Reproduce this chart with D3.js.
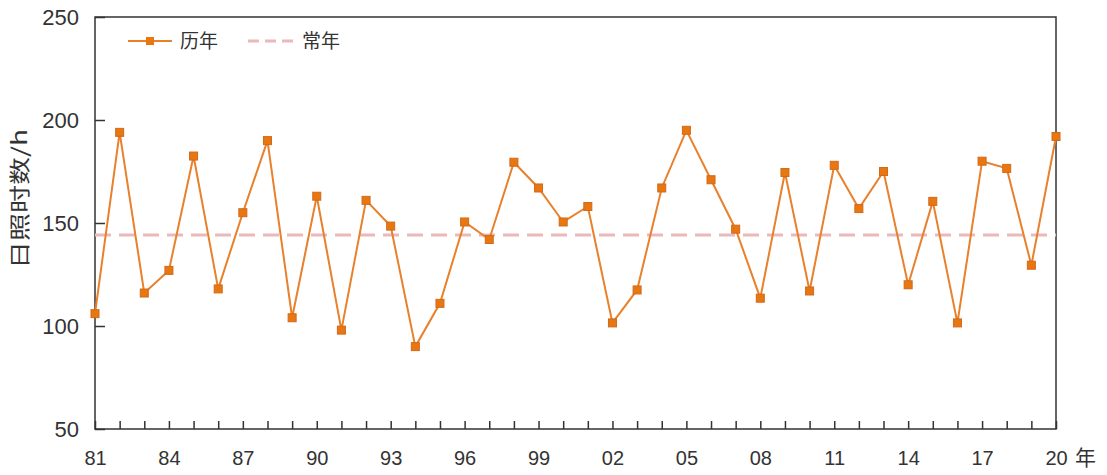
<!DOCTYPE html>
<html>
<head>
<meta charset="utf-8">
<script src="https://cdn.jsdelivr.net/npm/d3@7"></script>
<style>
  body { margin: 0; background: #fff; }
  svg text { font-family: "Liberation Sans", Arial, "Noto Sans CJK SC", sans-serif; fill: #333; }
  .cjk { font-family: "Noto Sans CJK SC", sans-serif; }
</style>
</head>
<body>
<div id="canvas"></div>
<script>
// datos
var anios = d3.range(1981, 2021);
var horas = [106, 194, 116, 127, 182.5, 118, 155, 190, 104, 163, 98, 161, 148.5, 90, 111, 150.5,
             142, 179.5, 167, 150.5, 158, 101.5, 117.5, 167, 195, 171, 147, 113.5, 174.5, 117,
             178, 157, 175, 120, 160.5, 101.5, 180, 176.5, 129.5, 192];
var normal = 144.2;
var yTicks = [50, 100, 150, 200, 250];
var xLabelAnios = [1981, 1984, 1987, 1990, 1993, 1996, 1999, 2002, 2005, 2008, 2011, 2014, 2017, 2020];

var width = 1107;
var height = 475;
var margin = {top: 17, right: 51, bottom: 46, left: 95};
var w = width - margin.left - margin.right;
var h = height - margin.top - margin.bottom;

var naranja = "#E8802C";
var rosa = "#E9B9BC";

var svg = d3.select("#canvas").append("svg")
    .attr("width", width)
    .attr("height", height);

var g = svg.append("g")
    .attr("transform", "translate(" + margin.left + "," + margin.top + ")");

var x = d3.scaleLinear().domain([1981, 2020]).range([0, w]);
var y = d3.scaleLinear().domain([50, 250]).range([h, 0]);

// marco
g.append("rect")
    .attr("width", w)
    .attr("height", h)
    .attr("fill", "none")
    .attr("stroke", "#333")
    .attr("stroke-width", 1.5);

// eje x, ticks hacia dentro
var ejeX = g.append("g")
    .attr("transform", "translate(0," + h + ")")
    .call(d3.axisBottom(x)
        .tickValues(anios)
        .tickSizeInner(-8)
        .tickSizeOuter(0)
        .tickFormat(function(d) { return xLabelAnios.indexOf(d) >= 0 ? String(d).slice(2) : ""; }));
ejeX.select(".domain").remove();
ejeX.selectAll("line").attr("stroke", "#333").attr("stroke-width", 1.5);
ejeX.selectAll("text")
    .attr("y", 22)
    .attr("font-size", "20px")
    .attr("fill", "#333");

// eje y
var ejeY = g.append("g")
    .call(d3.axisLeft(y)
        .tickValues(yTicks)
        .tickSizeInner(-10)
        .tickSizeOuter(0)
        .tickPadding(16));
ejeY.select(".domain").remove();
ejeY.selectAll("line").attr("stroke", "#333").attr("stroke-width", 1.5);
ejeY.selectAll("text")
    .attr("font-size", "22px")
    .attr("fill", "#333");

// línea de normal (常年)
g.append("line")
    .attr("x1", 0)
    .attr("x2", w)
    .attr("y1", y(normal))
    .attr("y2", y(normal))
    .attr("stroke", rosa)
    .attr("stroke-width", 3)
    .attr("stroke-dasharray", "16,8");

// serie 历年
var linea = d3.line()
    .x(function(d, i) { return x(anios[i]); })
    .y(function(d) { return y(d); });

g.append("path")
    .datum(horas)
    .attr("fill", "none")
    .attr("stroke", naranja)
    .attr("stroke-width", 2)
    .attr("d", linea);

g.selectAll(".punto")
    .data(horas)
    .enter().append("rect")
    .attr("class", "punto")
    .attr("x", function(d, i) { return x(anios[i]) - 4; })
    .attr("y", function(d) { return y(d) - 4; })
    .attr("width", 8)
    .attr("height", 8)
    .attr("fill", "#E8770F")
    .attr("stroke", "#D2691E")
    .attr("stroke-width", 1);

// leyenda
var ley = svg.append("g").attr("transform", "translate(128,41)");
ley.append("line")
    .attr("x1", 0).attr("x2", 44)
    .attr("stroke", naranja).attr("stroke-width", 2);
ley.append("rect")
    .attr("x", 18).attr("y", -4).attr("width", 8).attr("height", 8)
    .attr("fill", "#E8770F");
ley.append("text")
    .attr("class", "cjk")
    .attr("x", 52).attr("y", 7)
    .attr("font-size", "19px")
    .text("历年");
ley.append("line")
    .attr("x1", 120).attr("x2", 167)
    .attr("stroke", rosa).attr("stroke-width", 3)
    .attr("stroke-dasharray", "11,6");
ley.append("text")
    .attr("class", "cjk")
    .attr("x", 174).attr("y", 7)
    .attr("font-size", "19px")
    .text("常年");

// títulos
svg.append("text")
    .attr("class", "cjk")
    .attr("transform", "translate(27,199) rotate(-90)")
    .attr("text-anchor", "middle")
    .attr("font-size", "21px")
    .attr("textLength", 140)
    .attr("lengthAdjust", "spacingAndGlyphs")
    .text("日照时数/h");

svg.append("text")
    .attr("class", "cjk")
    .attr("x", 1075)
    .attr("y", 465)
    .attr("font-size", "21px")
    .text("年");
</script>
</body>
</html>
